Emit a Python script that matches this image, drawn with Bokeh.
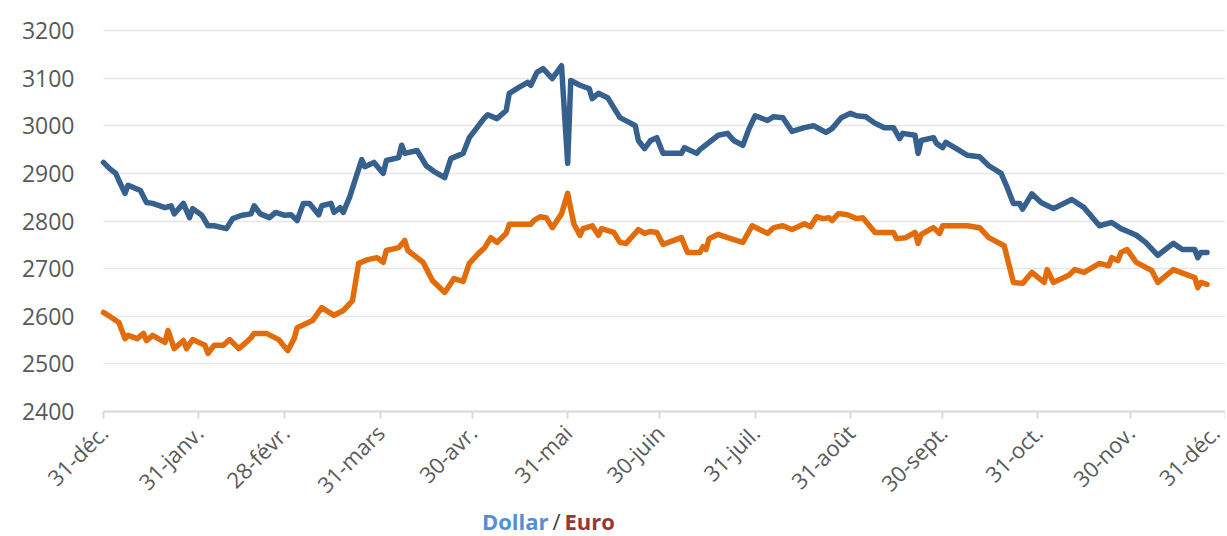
import math
from bokeh.plotting import figure
from bokeh.models import Range1d, FixedTicker, ColumnDataSource
from bokeh.core.properties import value
from bokeh.embed import file_html
from bokeh.resources import INLINE

# ---- data (day offset from 31-déc, value) ----
dollar_days = [0, 2, 4, 5, 7, 8, 12, 14, 16, 20, 22, 23, 26, 28, 29, 32, 34, 36, 40, 42, 45, 48, 49, 51, 54, 56,
               59, 61, 63, 65, 67, 70, 71, 74, 75, 77, 78, 80, 84, 85, 88, 91, 92, 96, 97, 98, 102, 105, 108, 111,
               113, 117, 119, 124, 125, 128, 131, 132, 135, 138, 139, 141, 143, 146, 149, 151, 152, 155, 158, 159,
               161, 164, 168, 171, 173, 174, 176, 178, 180, 182, 188, 189, 193, 194, 200, 203, 205, 208, 210, 212,
               216, 218, 221, 224, 228, 231, 235, 237, 240, 243, 245, 248, 251, 254, 257, 259, 260, 264, 265, 266,
               270, 271, 273, 274, 278, 281, 285, 288, 292, 294, 296, 298, 299, 302, 305, 309, 315, 319, 324, 328,
               331, 334, 336, 339, 343, 348, 351, 355, 356, 357, 359]
dollar_vals = [2923, 2910, 2900, 2885, 2858, 2875, 2864, 2839, 2837, 2828, 2832, 2815, 2837, 2807, 2826, 2812, 2790,
               2790, 2784, 2805, 2812, 2815, 2832, 2815, 2807, 2818, 2812, 2813, 2801, 2837, 2837, 2813, 2832, 2837,
               2818, 2828, 2818, 2849, 2929, 2914, 2923, 2900, 2927, 2933, 2959, 2942, 2948, 2916, 2902, 2891, 2931,
               2942, 2975, 3017, 3023, 3015, 3032, 3068, 3080, 3091, 3085, 3112, 3120, 3099, 3126, 2921, 3095, 3085,
               3078, 3057, 3068, 3059, 3017, 3007, 3000, 2969, 2952, 2969, 2975, 2942, 2942, 2954, 2942, 2950, 2980,
               2984, 2969, 2959, 2994, 3021, 3011, 3019, 3017, 2988, 2996, 3000, 2986, 2994, 3017, 3026, 3021, 3019,
               3005, 2996, 2996, 2973, 2984, 2980, 2942, 2969, 2975, 2963, 2954, 2965, 2950, 2938, 2935, 2916, 2900,
               2870, 2837, 2837, 2825, 2857, 2839, 2826, 2845, 2828, 2790, 2797, 2784, 2776, 2770, 2755, 2728, 2753,
               2740, 2740, 2723, 2734, 2734]

euro_days = [0, 2, 5, 7, 8, 11, 13, 14, 16, 20, 21, 23, 26, 27, 29, 33, 34, 36, 39, 41, 44, 46, 48, 49, 53, 57, 59,
             60, 62, 63, 68, 71, 75, 78, 81, 83, 86, 89, 91, 92, 96, 98, 99, 104, 107, 111, 114, 117, 119, 122, 124,
             126, 128, 131, 132, 139, 140, 142, 144, 146, 149, 151, 153, 155, 156, 159, 161, 162, 166, 168, 170, 174,
             176, 178, 180, 182, 188, 190, 194, 195, 196, 197, 200, 203, 208, 211, 216, 218, 221, 224, 228, 230, 232,
             234, 236, 237, 239, 240, 242, 245, 247, 251, 257, 258, 261, 264, 265, 266, 270, 272, 273, 278, 281, 285,
             288, 293, 296, 299, 302, 306, 307, 309, 314, 316, 319, 324, 327, 328, 330, 331, 333, 336, 341, 343, 348,
             355, 356, 357, 359]
euro_vals = [2608, 2600, 2587, 2553, 2560, 2553, 2564, 2549, 2560, 2545, 2570, 2532, 2549, 2532, 2551, 2539, 2522,
             2539, 2539, 2551, 2532, 2543, 2555, 2564, 2564, 2551, 2535, 2528, 2553, 2576, 2591, 2618, 2602, 2612,
             2633, 2711, 2719, 2723, 2713, 2738, 2744, 2759, 2738, 2713, 2675, 2650, 2679, 2673, 2711, 2732, 2744,
             2765, 2755, 2774, 2793, 2793, 2801, 2809, 2807, 2786, 2815, 2858, 2794, 2770, 2784, 2790, 2770, 2784,
             2776, 2755, 2753, 2782, 2774, 2778, 2776, 2751, 2765, 2734, 2734, 2746, 2740, 2763, 2772, 2765, 2755,
             2790, 2774, 2786, 2790, 2782, 2794, 2788, 2809, 2805, 2807, 2801, 2815, 2815, 2813, 2805, 2807, 2776,
             2776, 2763, 2765, 2776, 2753, 2772, 2786, 2774, 2790, 2790, 2790, 2786, 2765, 2748, 2671, 2669, 2692,
             2671, 2698, 2671, 2686, 2698, 2692, 2711, 2706, 2723, 2717, 2734, 2740, 2713, 2696, 2671, 2698, 2681,
             2660, 2671, 2667]

tick_days = [0, 31, 59, 90, 120, 151, 181, 212, 243, 273, 304, 334, 365]
tick_labels = ["31-déc.", "31-janv.", "28-févr.", "31-mars", "30-avr.", "31-mai", "30-juin",
               "31-juil.", "31-août", "30-sept.", "31-oct.", "30-nov.", "31-déc."]
y_ticks = [2400, 2500, 2600, 2700, 2800, 2900, 3000, 3100, 3200]

title_parts = ["Dollar", "/", "Euro"]
title_colors = ["#558ED5", "#404040", "#953735"]
title_styles = ["bold", "normal", "bold"]
title_aligns = ["right", "center", "left"]

FONT = "Open Sans"
LABEL_COLOR = "#595959"

# ---- layout geometry (pixels) ----
W, H = 1225, 534
LEFT, TOP = 103, 30               # pixel column of day 0, pixel row of 3200
AXIS_Y = 411                      # pixel row of the 2400 baseline
D0, D1 = 0, 365
Y0, Y1 = 2400, 3200
px_per_unit = (AXIS_Y - TOP) / (Y1 - Y0)
px_per_day = (W - LEFT) / (D1 - D0)
y_start = Y0 - (H - AXIS_Y) / px_per_unit
y_end = Y1 + TOP / px_per_unit
x_start = D0 - LEFT / px_per_day

def px_to_day(px):
    return D0 + (px - LEFT) / px_per_day

def py_to_val(py):
    return Y0 - (py - AXIS_Y) / px_per_unit

p = figure(width=W, height=H, output_backend="svg", toolbar_location=None,
           x_range=Range1d(x_start, D1), y_range=Range1d(y_start, y_end),
           min_border_left=0, min_border_right=0, min_border_top=0, min_border_bottom=0)
p.outline_line_color = None
p.background_fill_color = "white"
p.border_fill_color = "white"

src_d = ColumnDataSource(dict(x=dollar_days, y=dollar_vals))
src_e = ColumnDataSource(dict(x=euro_days, y=euro_vals))
p.line("x", "y", source=src_d, line_color="#36618F", line_width=5.5, line_join="round", line_cap="round")
p.line("x", "y", source=src_e, line_color="#E36C0A", line_width=5.5, line_join="round", line_cap="round")

# grids
p.xgrid.visible = False
p.ygrid.grid_line_color = "#E6E6E6"
p.ygrid.grid_line_width = 1.5
p.yaxis.ticker = FixedTicker(ticks=y_ticks)
p.ygrid.ticker = FixedTicker(ticks=y_ticks)
p.ygrid.cross_bounds = (D0, D1)

# y axis, pinned at day 0
p.yaxis.fixed_location = D0
p.yaxis.bounds = (Y0, Y1)
p.yaxis.axis_line_color = None
p.yaxis.major_tick_line_color = None
p.yaxis.minor_tick_line_color = None
p.yaxis.major_label_text_font = FONT
p.yaxis.major_label_text_font_size = "23px"
p.yaxis.major_label_text_color = LABEL_COLOR
p.yaxis.major_label_standoff = 23

# x axis, pinned at the 2400 baseline
p.xaxis.fixed_location = Y0
p.xaxis.bounds = (D0, D1)
p.xaxis.ticker = FixedTicker(ticks=tick_days)
p.xaxis.major_label_overrides = {d: l for d, l in zip(tick_days, tick_labels)}
p.xaxis.axis_line_color = "#D9D9D9"
p.xaxis.axis_line_width = 2
p.xaxis.major_tick_line_color = "#D9D9D9"
p.xaxis.major_tick_line_width = 2
p.xaxis.major_tick_out = 7
p.xaxis.major_tick_in = 0
p.xaxis.minor_tick_line_color = None
p.xaxis.major_label_orientation = math.pi / 4
p.xaxis.major_label_text_font = FONT
p.xaxis.major_label_text_font_size = "22px"
p.xaxis.major_label_text_color = LABEL_COLOR
p.xaxis.major_label_standoff = 10

# bottom caption "Dollar / Euro"
title_px = [548, 556, 564]
tsrc = ColumnDataSource(dict(x=[px_to_day(v) for v in title_px],
                             y=[py_to_val(520)] * 3,
                             text=title_parts, color=title_colors,
                             style=title_styles, align=title_aligns))
p.text(x="x", y="y", text="text", source=tsrc, text_color="color", text_font_style="style",
       text_align="align", text_baseline="alphabetic", text_font=value(FONT), text_font_size="22px")

open("out.html", "w").write(file_html(p, INLINE))
